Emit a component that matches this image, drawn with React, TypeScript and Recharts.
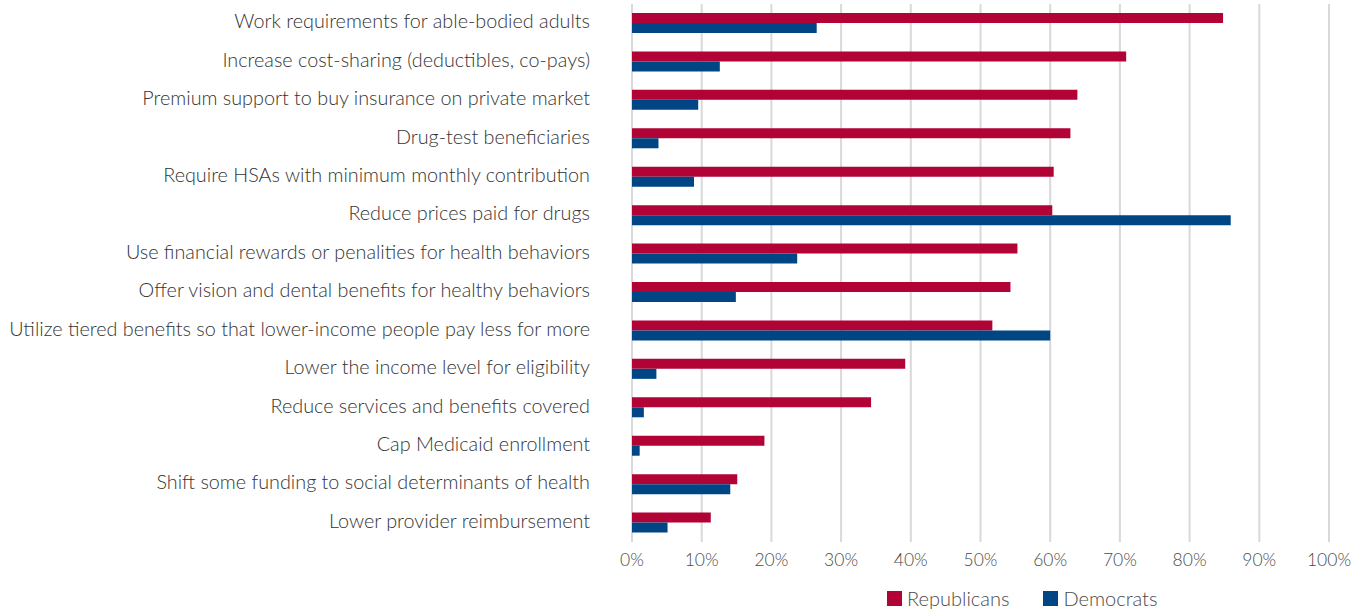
import { Bar, BarChart, CartesianGrid, Legend, XAxis, YAxis } from "recharts";

const CATEGORIES = [
  "Work requirements for able-bodied adults",
  "Increase cost-sharing (deductibles, co-pays)",
  "Premium support to buy insurance on private market",
  "Drug-test beneficiaries",
  "Require HSAs with minimum monthly contribution",
  "Reduce prices paid for drugs",
  "Use financial rewards or penalities for health behaviors",
  "Offer vision and dental benefits for healthy behaviors",
  "Utilize tiered benefits so that lower-income people pay less for more",
  "Lower the income level for eligibility",
  "Reduce services and benefits covered",
  "Cap Medicaid enrollment",
  "Shift some funding to social determinants of health",
  "Lower provider reimbursement",
];

// share of respondents, fraction 0-1
const REPUBLICANS = [0.848, 0.709, 0.639, 0.629, 0.605, 0.603, 0.553, 0.543, 0.517, 0.392, 0.343, 0.19, 0.151, 0.113];
const DEMOCRATS = [0.265, 0.126, 0.095, 0.038, 0.089, 0.859, 0.237, 0.149, 0.6, 0.035, 0.017, 0.011, 0.141, 0.051];

const X_TICKS = [0, 0.1, 0.2, 0.3, 0.4, 0.5, 0.6, 0.7, 0.8, 0.9, 1];

const RED = "#b10335";
const BLUE = "#004684";
const FONT = "Lato, 'Open Sans', sans-serif";

const data = CATEGORIES.map((name, i) => ({
  name,
  rep: REPUBLICANS[i],
  dem: DEMOCRATS[i],
}));

const LegendContent = () => (
  <div style={{ display: "flex", alignItems: "center", fontFamily: FONT, fontWeight: 300, fontSize: 20, color: "#4a4a4a" }}>
    {[
      { label: "Republicans", color: RED },
      { label: "Democrats", color: BLUE },
    ].map((it, i) => (
      <span key={it.label} style={{ display: "flex", alignItems: "center", marginLeft: i ? 34 : 0 }}>
        <span style={{ width: 15, height: 15, background: it.color, marginRight: 5, display: "inline-block" }} />
        {it.label}
      </span>
    ))}
  </div>
);

const App = () => (
  <div style={{ position: "absolute", left: 0, top: 0, background: "#fff" }}>
    <BarChart
      width={1365}
      height={611}
      data={data}
      layout="vertical"
      margin={{ top: 4, right: 36, left: 0, bottom: 15 }}
      barGap={0}
    >
      <CartesianGrid horizontal={false} stroke="#d9d9d9" strokeWidth={2} />
      <XAxis
        type="number"
        domain={[0, 1]}
        ticks={X_TICKS}
        tickFormatter={(v) => `${Math.round(v * 100)}%`}
        axisLine={false}
        tickLine={false}
        tickSize={0}
        tickMargin={12}
        tick={{ fontSize: 17.5, fill: "#4a4a4a", fontFamily: FONT, fontWeight: 300 }}
        interval={0}
      />
      <YAxis
        type="category"
        dataKey="name"
        width={632}
        axisLine={false}
        tickLine={false}
        tickSize={0}
        tickMargin={42}
        interval={0}
        tick={{ fontSize: 19.8, fill: "#333333", fontFamily: FONT, fontWeight: 300, dy: -2 }}
      />
      <Legend
        content={<LegendContent />}
        wrapperStyle={{ left: 887, top: 586, width: "auto", bottom: "auto" }}
      />
      <Bar dataKey="rep" name="Republicans" fill={RED} barSize={10} isAnimationActive={false} />
      <Bar dataKey="dem" name="Democrats" fill={BLUE} barSize={10} isAnimationActive={false} />
    </BarChart>
  </div>
);

export default App;
